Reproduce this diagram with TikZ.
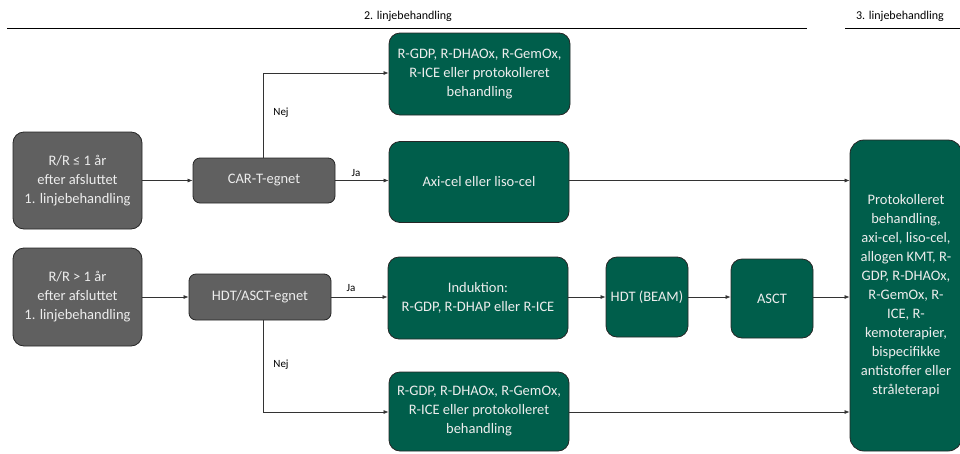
\documentclass[tikz,border=0pt]{standalone}
\usepackage{fontspec}
\setmainfont{Carlito}
\usetikzlibrary{arrows.meta}
\definecolor{dgreen}{HTML}{005E4B}
\definecolor{dgray}{HTML}{606060}
\definecolor{txtc}{HTML}{EDEDED}
\tikzset{
  boxbase/.style={draw=black!85, line width=0.8pt, rounded corners=11pt, text=txtc, align=center, inner sep=1pt, font=\fontsize{14.5}{19}\selectfont},
  graybox/.style={boxbase, fill=dgray},
  greenbox/.style={boxbase, fill=dgreen},
  conn/.style={draw=black!80, line width=0.7pt, -{Latex[length=5pt,width=4pt]}},
  lbl/.style={font=\fontsize{11}{12}\selectfont, text=black},
  hdr/.style={font=\fontsize{12}{13}\selectfont, text=black}
}
\begin{document}
\begin{tikzpicture}[x=1pt,y=-1pt]
\useasboundingbox (0,0) rectangle (960,453);
% headers
\node[hdr] (h2) at (408,16) {2. linjebehandling};
\node[hdr] (h3) at (900,16) {3. linjebehandling};
\draw[line width=0.8pt] (7,28) -- (807,28);
\draw[line width=0.8pt] (845,28) -- (960,28);
% left boxes
\node[graybox, minimum width=129pt, minimum height=97pt] (a1) at (77.5,180.5) {R/R ≤ 1 år\\efter afsluttet\\1. linjebehandling};
\node[graybox, minimum width=129pt, minimum height=98pt] (a2) at (77.5,297) {R/R > 1 år\\efter afsluttet\\1. linjebehandling};
% decision boxes
\node[graybox, rounded corners=7pt, minimum width=142pt, minimum height=45pt] (car) at (264,180.5) {CAR-T-egnet};
\node[graybox, rounded corners=7pt, minimum width=142pt, minimum height=46pt] (hdt) at (260,297) {HDT/ASCT-egnet};
% green boxes
\node[greenbox, minimum width=181pt, minimum height=82pt] (g1) at (479.5,74) {R-GDP, R-DHAOx, R-GemOx,\\R-ICE eller protokolleret\\behandling};
\node[greenbox, minimum width=180pt, minimum height=81pt] (g2) at (479,182) {Axi-cel eller liso-cel};
\node[greenbox, minimum width=180pt, minimum height=82pt] (g3) at (478,298) {Induktion:\\R-GDP, R-DHAP eller R-ICE};
\node[greenbox, minimum width=82pt, minimum height=80pt] (g4) at (647,297) {HDT (BEAM)};
\node[greenbox, minimum width=82pt, minimum height=79pt] (g5) at (772,298.5) {ASCT};
\node[greenbox, minimum width=180pt, minimum height=79pt] (g6) at (479,411.5) {R-GDP, R-DHAOx, R-GemOx,\\R-ICE eller protokolleret\\behandling};
\node[greenbox, rounded corners=14pt, minimum width=112pt, minimum height=311pt] (big) at (906,295.5) {Protokolleret\\behandling,\\axi-cel, liso-cel,\\allogen KMT, R-\\GDP, R-DHAOx,\\R-GemOx, R-\\ICE, R-\\kemoterapier,\\bispecifikke\\antistoffer eller\\stråleterapi};
% coordinates
\coordinate (c1) at (263,73);
\coordinate (c2) at (263,412);
% connectors
\draw[conn] (a1.east) -- (car.west);
\draw[conn] (a2.east) -- (hdt.west);
\draw[conn] (car.north -| c1) -- (c1) -- (g1.west |- c1);
\node[lbl] (nej1) at (281,113) {Nej};
\draw[conn] (car.east) -- (g2.west |- car.east);
\node[lbl] (ja1) at (356,173) {Ja};
\draw[conn] (g2.east |- car.east) -- (big.west |- car.east);
\draw[conn] (hdt.east) -- (g3.west |- hdt.east);
\node[lbl] (ja2) at (351,288) {Ja};
\draw[conn] (hdt.south -| c2) -- (c2) -- (g6.west |- c2);
\node[lbl] (nej2) at (281,365) {Nej};
\draw[conn] (g3.east |- hdt.east) -- (g4.west |- hdt.east);
\draw[conn] (g4.east |- hdt.east) -- (g5.west |- hdt.east);
\draw[conn] (g5.east |- hdt.east) -- (big.west |- hdt.east);
\draw[conn] (g6.east |- c2) -- (big.west |- c2);
\end{tikzpicture}
\end{document}
